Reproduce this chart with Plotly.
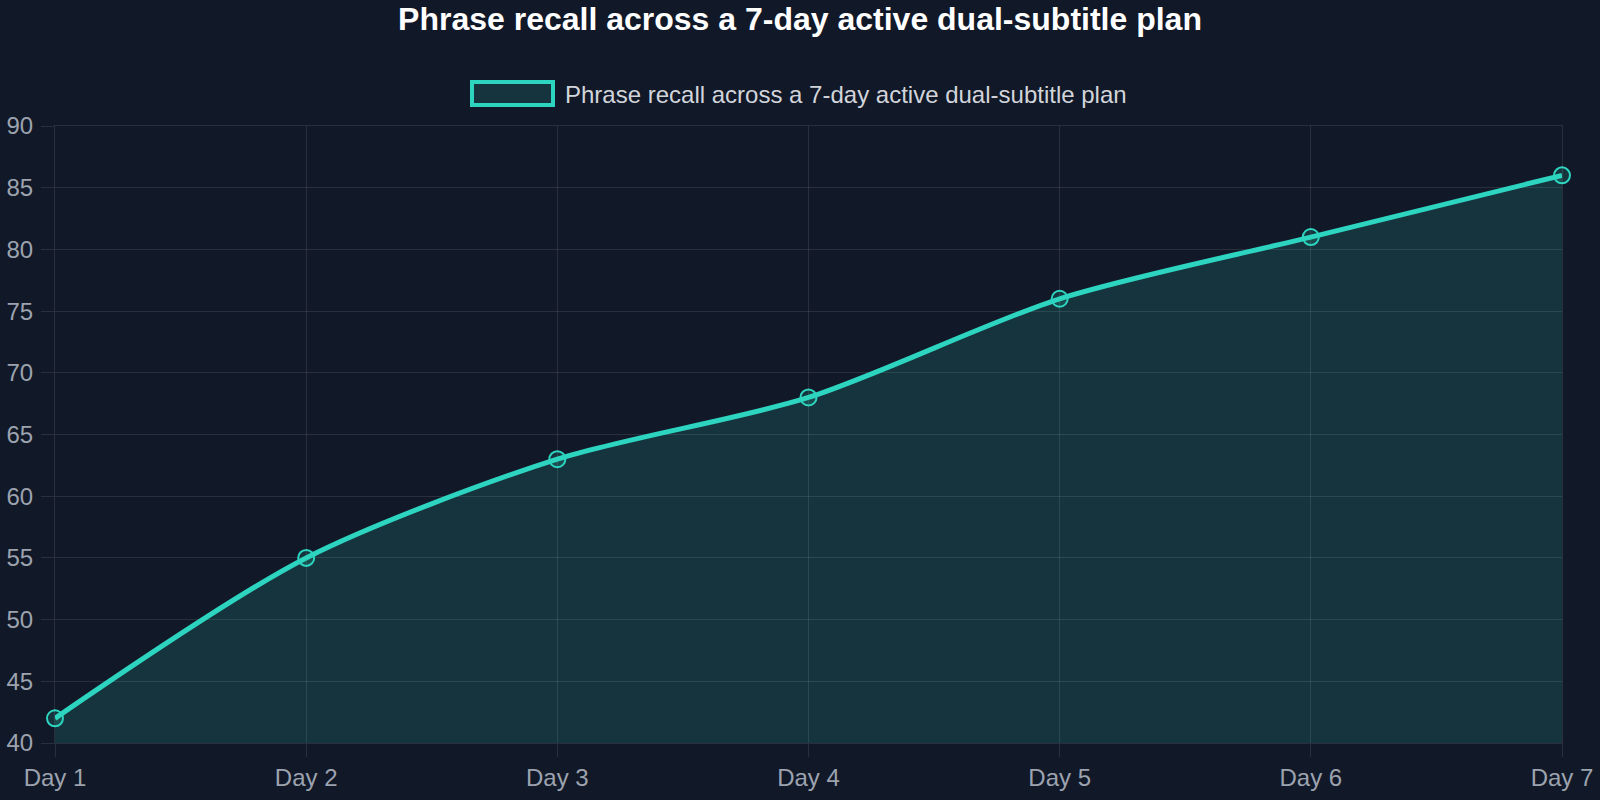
import plotly.graph_objects as go

days = ["Day 1", "Day 2", "Day 3", "Day 4", "Day 5", "Day 6", "Day 7"]
recall = [42, 55, 63, 68, 76, 81, 86]
series_name = "Phrase recall across a 7-day active dual-subtitle plan"
title_text = "Phrase recall across a 7-day active dual-subtitle plan"
y_ticks = [40, 45, 50, 55, 60, 65, 70, 75, 80, 85, 90]

BG = "#111827"
GRID = "rgba(255,255,255,0.10)"
TEAL = "#2dd4bf"
FILL = "rgba(45,212,191,0.15)"
TICKC = "#9ca3af"
FONT = "Liberation Sans, Arial, sans-serif"

W, H = 1600, 800
L, R, T, B = 55, 38, 126, 57
PW, PH = W - L - R, H - T - B


def px(x):
    return (x - L) / PW


def py(y):
    return (H - B - y) / PH


fig = go.Figure()
fig.add_trace(go.Scatter(
    x=days, y=recall, name=series_name, mode="lines+markers",
    line=dict(color=TEAL, width=5, shape="spline", smoothing=0.8),
    marker=dict(symbol="circle", size=16, color=FILL,
                line=dict(color=TEAL, width=2)),
    fill="tozeroy", fillcolor=FILL, showlegend=False, cliponaxis=False,
))

# manual legend (Chart.js-style box)
fig.add_shape(type="rect", xref="paper", yref="paper",
              x0=px(472), x1=px(553), y0=py(105), y1=py(82),
              line=dict(color=TEAL, width=4), fillcolor="#15343e", layer="above")
fig.add_annotation(xref="paper", yref="paper", x=px(563), y=py(94),
                   xanchor="left", yanchor="middle", showarrow=False,
                   text=series_name, font=dict(family=FONT, size=24, color="#d1d5db"))

fig.update_layout(
    width=W, height=H,
    paper_bgcolor=BG, plot_bgcolor=BG,
    margin=dict(l=L, r=R, t=T, b=B, autoexpand=False),
    title=dict(text="<b>" + title_text + "</b>", x=0.5, xanchor="center", y=1 - 19 / H, yanchor="middle",
               font=dict(family=FONT, size=32, color="#ffffff")),
    font=dict(family=FONT, size=24, color=TICKC),
    showlegend=False,
    xaxis=dict(type="category", range=[0, 6], showgrid=True, gridcolor=GRID, gridwidth=1,
               ticks="outside", ticklen=13, tickcolor=GRID, showline=True, mirror=True,
               linecolor=GRID, tickfont=dict(size=24, color=TICKC), zeroline=False,
               automargin=False),
    yaxis=dict(range=[40, 90], tickvals=y_ticks, showgrid=True, gridcolor=GRID, gridwidth=1,
               ticks="outside", ticklen=13, tickcolor=GRID, showline=True, mirror=True,
               linecolor=GRID, tickfont=dict(size=24, color=TICKC), zeroline=False,
               automargin=False, ticklabelstandoff=3),
)

fig.write_html("out.html", config={"displayModeBar": False},
               post_script="document.body.style.margin='0';document.body.style.padding='0';"
                           "document.body.style.overflow='hidden';"
                           "document.body.style.background='#111827';")
